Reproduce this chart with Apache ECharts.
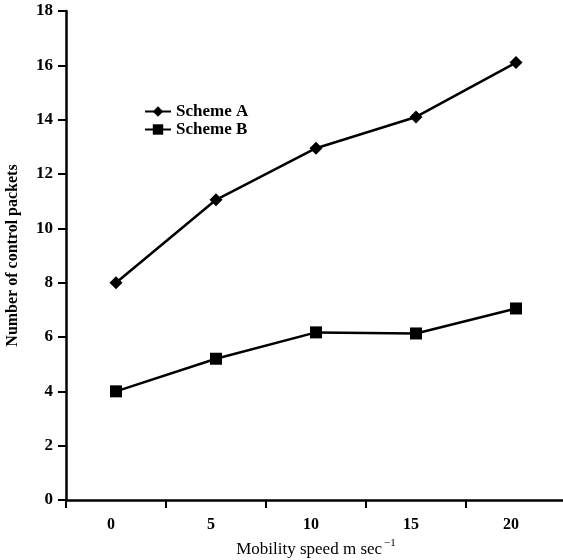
<!DOCTYPE html>
<html>
<head>
<meta charset="utf-8">
<script src="https://cdn.jsdelivr.net/npm/echarts@6/dist/echarts.min.js"></script>
<style>
html,body{margin:0;padding:0;background:#fff;}
#c{width:563px;height:560px;}
</style>
</head>
<body>
<div id="c"></div>
<script>
const categories = ['0', '5', '10', '15', '20'];
const schemeA = [8.0, 11.05, 12.95, 14.1, 16.1];
const schemeB = [4.0, 5.2, 6.17, 6.13, 7.05];
const yTicks = { min: 0, max: 18, interval: 2 };

const font = '"Liberation Serif", "Times New Roman", serif';
const chart = echarts.init(document.getElementById('c'));
chart.setOption({
  backgroundColor: '#fff',
  animation: false,
  grid: { left: 66, top: 11, width: 500, height: 489, outerBoundsMode: 'none', containLabel: false },
  legend: {
    left: 139, top: 98, orient: 'vertical',
    itemWidth: 26, itemHeight: 13, itemGap: 1,
    textStyle: { fontFamily: font, fontWeight: 'bold', fontSize: 17, color: '#000' },
    data: ['Scheme A', 'Scheme B']
  },
  xAxis: {
    type: 'category', data: categories, boundaryGap: true,
    name: 'Mobility speed m sec{sup|−1}', nameLocation: 'middle', nameGap: 36,
    nameTextStyle: {
      fontFamily: font, fontSize: 17, color: '#000',
      rich: { sup: { fontFamily: font, fontSize: 11, color: '#000', verticalAlign: 'top', padding: [0, 0, 12, 2] } }
    },
    axisLine: { lineStyle: { color: '#000', width: 2.5 } },
    axisTick: { show: true, length: 8, lineStyle: { color: '#000', width: 2 } },
    axisLabel: { margin: 17, fontFamily: font, fontWeight: 'bold', fontSize: 16, color: '#000', padding: [0, 10, 0, 0] },
    splitLine: { show: false }
  },
  yAxis: {
    type: 'value', min: yTicks.min, max: yTicks.max, interval: yTicks.interval,
    name: 'Number of control packets', nameLocation: 'middle', nameGap: 45,
    nameTextStyle: { fontFamily: font, fontWeight: 'bold', fontSize: 16, color: '#000' },
    axisLine: { show: true, lineStyle: { color: '#000', width: 2.5 } },
    axisTick: { show: true, length: 8, lineStyle: { color: '#000', width: 2 } },
    axisLabel: { margin: 13, fontFamily: font, fontWeight: 'bold', fontSize: 17, color: '#000' },
    splitLine: { show: false }
  },
  series: [
    {
      name: 'Scheme A', type: 'line', data: schemeA,
      symbol: 'diamond', symbolSize: 13,
      lineStyle: { color: '#000', width: 2.5 },
      itemStyle: { color: '#000' }
    },
    {
      name: 'Scheme B', type: 'line', data: schemeB,
      symbol: 'rect', symbolSize: 12,
      lineStyle: { color: '#000', width: 2.5 },
      itemStyle: { color: '#000' }
    }
  ]
});
</script>
</body>
</html>
